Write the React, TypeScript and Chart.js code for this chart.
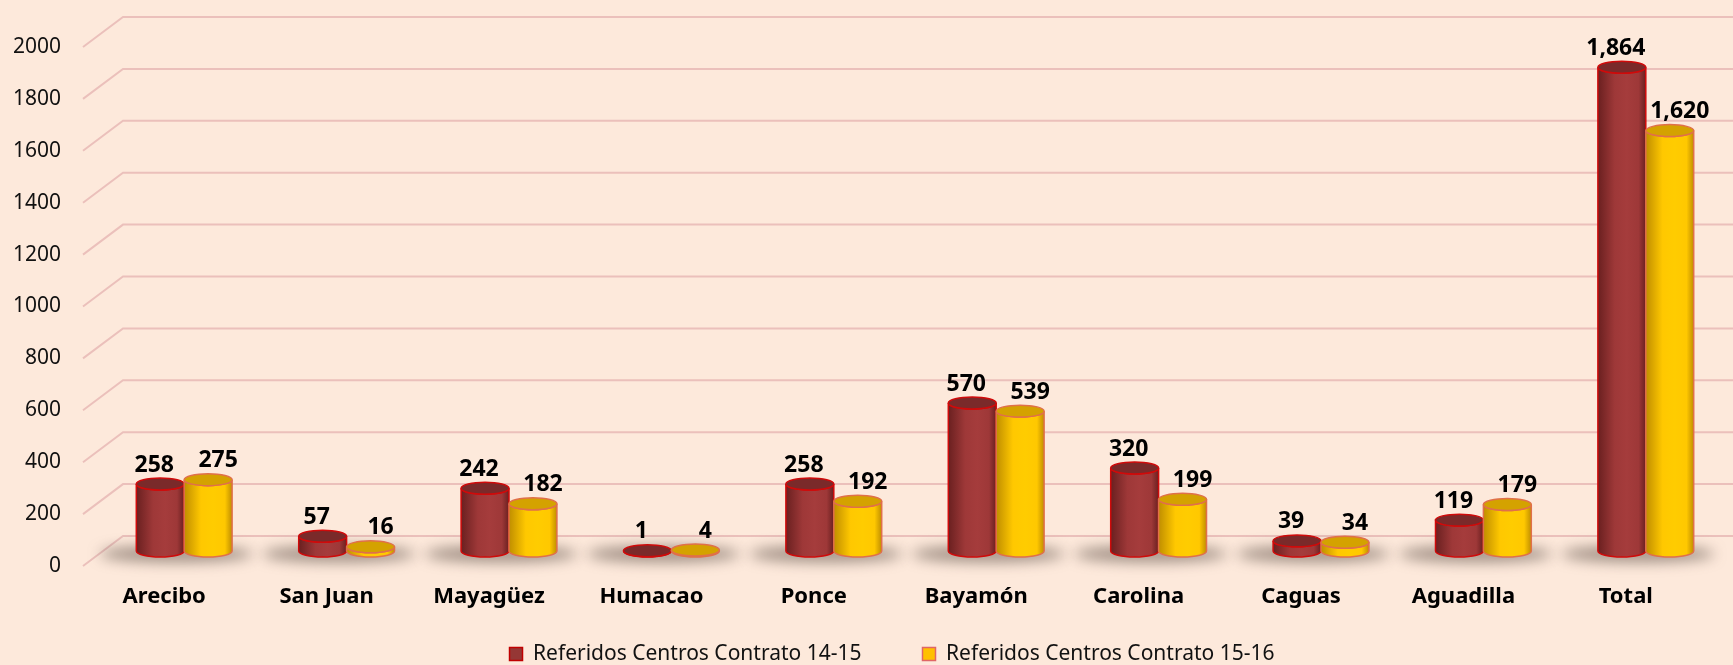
import React, { useEffect, useRef } from "react";
import { Chart, registerables } from "chart.js";

Chart.register(...registerables);

const categories = ["Arecibo", "San Juan", "Mayagüez", "Humacao", "Ponce", "Bayamón", "Carolina", "Caguas", "Aguadilla", "Total"];
const series1415 = [258, 57, 242, 1, 258, 570, 320, 39, 119, 1864];
const series1516 = [275, 16, 182, 4, 192, 539, 199, 34, 179, 1620];
const seriesNames = ["Referidos Centros Contrato 14-15", "Referidos Centros Contrato 15-16"];
const yMin = 0;
const yMax = 2000;
const yStep = 200;

const FONT = "'Noto Sans', 'Open Sans', sans-serif";
const BG = "#FDE9DB";
const GRID = "#EBC0BB";

const palettes = [
  { dark: "#6A2020", mid: "#9E3838", light: "#A53C3C", top: "#7A2A2A", border: "#D00A0A" },
  { dark: "#C08E00", mid: "#FFC800", light: "#FFCC00", top: "#D4A200", border: "#E0704A" },
];

function drawCylinder(ctx: CanvasRenderingContext2D, x: number, top: number, base: number, w: number, p: any) {
  const rx = w / 2;
  const ry = Math.max(4, w * 0.125);
  const left = x - rx;
  const right = x + rx;
  const g = ctx.createLinearGradient(left, 0, right, 0);
  g.addColorStop(0, p.dark);
  g.addColorStop(0.35, p.mid);
  g.addColorStop(0.6, p.light);
  g.addColorStop(0.85, p.mid);
  g.addColorStop(1, p.dark);
  ctx.save();
  ctx.beginPath();
  ctx.moveTo(left, top);
  ctx.lineTo(left, base);
  ctx.ellipse(x, base, rx, ry, 0, Math.PI, 0, true);
  ctx.lineTo(right, top);
  ctx.ellipse(x, top, rx, ry, 0, 0, Math.PI, false);
  ctx.closePath();
  ctx.fillStyle = g;
  ctx.fill();
  ctx.lineWidth = 1.5;
  ctx.strokeStyle = p.border;
  ctx.stroke();
  ctx.beginPath();
  ctx.ellipse(x, top, rx, ry, 0, 0, Math.PI * 2);
  ctx.fillStyle = p.top;
  ctx.fill();
  ctx.stroke();
  ctx.restore();
}

const cylinderPlugin = {
  id: "cylinders",
  afterLayout(chart: any) {
    const L = chart.legend;
    if (!L) return;
    const top = chart.chartArea.bottom + 31.5;
    L.top = top;
    L.bottom = chart.height;
    L.height = L.bottom - L.top;
    L.left += 57;
    L.width = L.right - L.left;
  },
  beforeDatasetsDraw(chart: any) {
    const ctx: CanvasRenderingContext2D = chart.ctx;
    const y = chart.scales.y;
    const area = chart.chartArea;
    const frontLeft = area.left - 20;
    ctx.save();
    ctx.strokeStyle = GRID;
    ctx.lineWidth = 2;
    y.ticks.forEach((t: any) => {
      const py = y.getPixelForValue(t.value);
      ctx.beginPath();
      ctx.moveTo(frontLeft, py + 15);
      ctx.lineTo(frontLeft + 40, py - 15);
      ctx.lineTo(chart.width, py - 15);
      ctx.stroke();
    });
    ctx.restore();
    const m0 = chart.getDatasetMeta(0);
    const m1 = chart.getDatasetMeta(1);
    ctx.save();
    ctx.filter = "blur(7px)";
    ctx.fillStyle = "rgba(95,80,72,0.6)";
    m0.data.forEach((b: any, i: number) => {
      const b2 = m1.data[i];
      const cx = (b.x + b2.x) / 2 - 8;
      const gw = b2.x - b.x + b.width;
      ctx.beginPath();
      ctx.ellipse(cx, b.base + 3, gw * 0.8, 8, 0, 0, Math.PI * 2);
      ctx.fill();
    });
    ctx.restore();
  },
  beforeDatasetDraw() {
    return false;
  },
  afterDatasetsDraw(chart: any) {
    const ctx: CanvasRenderingContext2D = chart.ctx;
    const metas = [chart.getDatasetMeta(0), chart.getDatasetMeta(1)];
    const n = metas[0].data.length;
    for (let i = 0; i < n; i++) {
      metas.forEach((m: any, d: number) => {
        const b = m.data[i];
        drawCylinder(ctx, b.x, b.y, b.base, b.width, palettes[d]);
      });
    }
    ctx.save();
    ctx.font = `bold 23px ${FONT}`;
    ctx.fillStyle = "#000";
    ctx.textAlign = "center";
    ctx.textBaseline = "middle";
    metas.forEach((m: any, d: number) => {
      const vals = chart.data.datasets[d].data;
      m.data.forEach((b: any, i: number) => {
        ctx.fillText(Number(vals[i]).toLocaleString("en-US"), b.x + (d === 0 ? -6 : 10), b.y - 19);
      });
    });
    ctx.restore();
  },
};

export default function App() {
  const ref = useRef<HTMLCanvasElement | null>(null);
  useEffect(() => {
    if (!ref.current) return;
    const chart = new Chart(ref.current, {
      type: "bar",
      data: {
        labels: categories,
        datasets: [
          { label: seriesNames[0], data: series1415, backgroundColor: "#953735", borderColor: "#C00000", borderWidth: 1.5 },
          { label: seriesNames[1], data: series1516, backgroundColor: "#FFC000", borderColor: "#E06666", borderWidth: 1.5 },
        ],
      },
      options: {
        responsive: false,
        animation: false,
        layout: { padding: { left: 0, right: 6, top: 32, bottom: 0 } },
        datasets: { bar: { categoryPercentage: 0.59, barPercentage: 1 } },
        plugins: {
          tooltip: { enabled: false },
          legend: {
            position: "bottom",
            maxHeight: 40,
            labels: {
              boxWidth: 13,
              boxHeight: 13,
              padding: 61,
              color: "#111",
              font: { family: FONT, size: 21 },
            },
          },
        },
        scales: {
          x: {
            grid: { display: false, drawTicks: false },
            border: { display: false },
            ticks: { color: "#000", font: { family: FONT, size: 22, weight: "bold" }, padding: 33, labelOffset: -20 },
            afterFit: (s: any) => {
              s.height = 74;
              s.paddingLeft = 0;
              s.paddingRight = 0;
            },
          },
          y: {
            min: yMin,
            max: yMax,
            grid: { display: false, drawTicks: false },
            border: { display: false },
            ticks: {
              stepSize: yStep,
              color: "#111",
              font: { family: FONT, size: 21 },
              padding: 42,
              labelOffset: 15,
              callback: (v: any) => String(v),
            },
            afterFit: (s: any) => {
              s.width = 103;
              s.paddingTop = 0;
              s.paddingBottom = 0;
            },
          },
        },
      },
      plugins: [cylinderPlugin],
    });
    return () => chart.destroy();
  }, []);
  return (
    <div style={{ position: "fixed", left: 0, top: 0, width: 1733, height: 665, background: BG }}>
      <canvas ref={ref} width={1733} height={665} style={{ display: "block" }} />
    </div>
  );
}
